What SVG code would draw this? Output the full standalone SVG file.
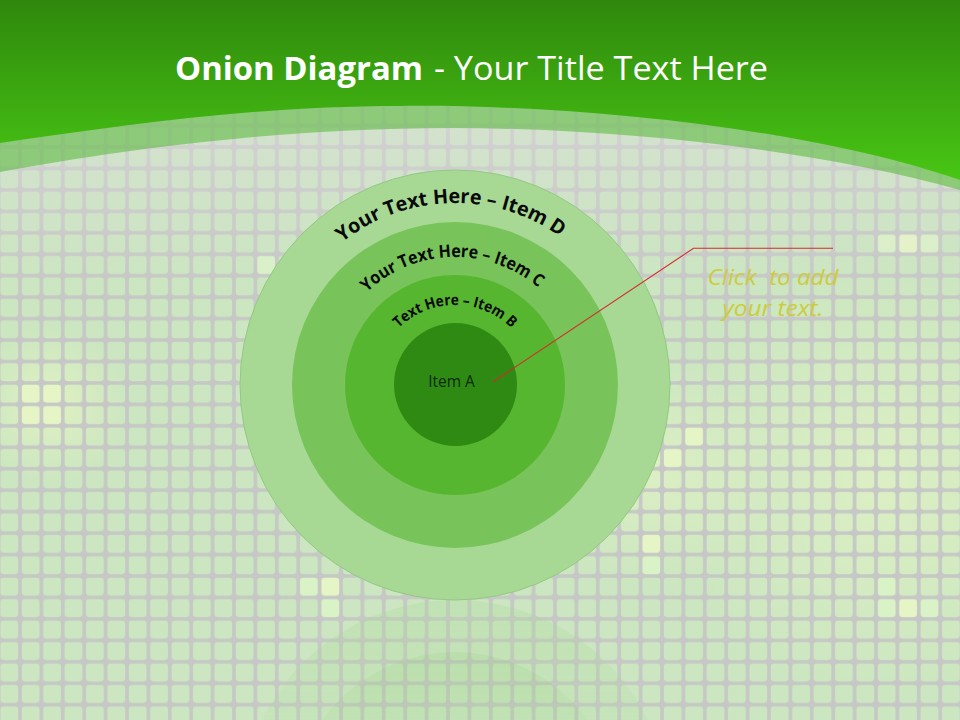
<svg xmlns="http://www.w3.org/2000/svg" xmlns:xlink="http://www.w3.org/1999/xlink" width="960" height="720" viewBox="0 0 960 720">
<style>
.arc{font-family:"Open Sans","Noto Sans","Liberation Sans",sans-serif;font-weight:700;fill:#0a0a0a}
.title{font-family:"Open Sans","Noto Sans","Liberation Sans",sans-serif;fill:#ffffff;font-size:32px}
.call{font-family:"Open Sans","Noto Sans","Liberation Sans",sans-serif;font-style:italic;fill:#cccc3c;font-size:21px}
.lbl{font-family:"Open Sans","Noto Sans","Liberation Sans",sans-serif;fill:#0f2a08;font-size:15.5px}
.hi{fill:#e6f5c6}
.hi2{fill:#d9f2c6}
</style>
<defs>
<pattern id="grid" patternUnits="userSpaceOnUse" x="-1.4" y="18.3" width="21.4" height="21.45">
<path d="M0,0H21.4V21.45H0Z M5,1.8H16.4Q19.6,1.8 19.6,5V16.45Q19.6,19.65 16.4,19.65H5Q1.8,19.65 1.8,16.45V5Q1.8,1.8 5,1.8Z" fill="#c6c8c5" fill-rule="evenodd"/>
</pattern>
<linearGradient id="hdr" x1="0" y1="0" x2="0" y2="1">
<stop offset="0" stop-color="#2f880c"/>
<stop offset="1" stop-color="#48c614"/>
</linearGradient>
<linearGradient id="topfade" x1="0" y1="0" x2="0" y2="1">
<stop offset="0" stop-color="#dcdcdc" stop-opacity="0.55"/>
<stop offset="1" stop-color="#dcdcdc" stop-opacity="0"/>
</linearGradient>
<radialGradient id="glowL" cx="50" cy="405" r="80" gradientUnits="userSpaceOnUse">
<stop offset="0" stop-color="#eef8c4" stop-opacity="0.6"/>
<stop offset="1" stop-color="#eef8c4" stop-opacity="0"/>
</radialGradient>
<radialGradient id="glowR" cx="880" cy="480" r="220" gradientUnits="userSpaceOnUse">
<stop offset="0" stop-color="#e4f3c6" stop-opacity="0.7"/>
<stop offset="1" stop-color="#e4f3c6" stop-opacity="0"/>
</radialGradient>
<radialGradient id="glowM" cx="650" cy="470" r="120" gradientUnits="userSpaceOnUse">
<stop offset="0" stop-color="#e4f3c6" stop-opacity="0.7"/>
<stop offset="1" stop-color="#e4f3c6" stop-opacity="0"/>
</radialGradient>
<linearGradient id="refl" x1="0" y1="600" x2="0" y2="720" gradientUnits="userSpaceOnUse">
<stop offset="0" stop-color="#fff" stop-opacity="0.45"/>
<stop offset="1" stop-color="#fff" stop-opacity="0.2"/>
</linearGradient>
<mask id="reflMask" maskUnits="userSpaceOnUse" x="0" y="600" width="960" height="120">
<rect x="0" y="600" width="960" height="120" fill="url(#refl)"/>
</mask>
<path id="pD" d="M294.3,299.6 A182,182 0 0 1 615.7,299.6"/>
<path id="pC" d="M334.7,341.2 A128,128 0 0 1 575.3,341.2"/>
<path id="pB" d="M376.2,371.1 A80,80 0 0 1 533.8,371.1"/>
</defs>

<g id="background">
<rect x="0" y="0" width="960" height="720" fill="#cbe6c0"/>
<rect x="0" y="0" width="960" height="720" fill="url(#glowR)"/>
<rect x="0" y="0" width="960" height="720" fill="url(#glowM)"/>
<rect x="0" y="0" width="960" height="720" fill="url(#glowL)"/>
<g>
<rect class="hi" x="21" y="384.5" width="19.4" height="19.5"/>
<rect class="hi" x="42.4" y="384.5" width="19.4" height="19.5"/>
<rect class="hi" x="21" y="405.9" width="19.4" height="19.5"/>
<rect class="hi" x="42.4" y="405.9" width="19.4" height="19.5"/>
<rect class="hi" x="898.4" y="234" width="19.4" height="19.5"/>
<rect class="hi2" x="877" y="234" width="19.4" height="19.5"/>
<rect class="hi2" x="919.8" y="234" width="19.4" height="19.5"/>
<rect class="hi" x="898.4" y="598.5" width="19.4" height="19.5"/>
<rect class="hi2" x="877" y="598.5" width="19.4" height="19.5"/>
<rect class="hi2" x="919.8" y="598.5" width="19.4" height="19.5"/>
<rect class="hi2" x="877" y="577" width="19.4" height="19.5"/>
<rect class="hi" x="684.4" y="427" width="19.4" height="19.5"/>
<rect class="hi" x="663" y="448.4" width="19.4" height="19.5"/>
<rect class="hi" x="641.6" y="534.2" width="19.4" height="19.5"/>
<rect class="hi2" x="641.6" y="555.6" width="19.4" height="19.5"/>
<rect class="hi" x="320.6" y="577" width="19.4" height="19.5"/>
<rect class="hi2" x="299.2" y="577" width="19.4" height="19.5"/>
<rect class="hi2" x="320.6" y="598.5" width="19.4" height="19.5"/>
<rect class="hi2" x="256.4" y="255.5" width="19.4" height="19.5"/>
</g>
<rect x="0" y="0" width="960" height="720" fill="url(#grid)"/>
<rect x="0" y="100" width="960" height="200" fill="url(#topfade)"/>
</g>

<g id="header">
<path d="M0,172 C120,150 280,128 450,128 C620,128 820,150 960,190 L960,0 L0,0 Z" fill="#5fbb42" fill-opacity="0.6"/>
<path d="M0,143 C120,126 250,106 400,106 C560,104 800,125 960,180 L960,0 L0,0 Z" fill="url(#hdr)"/>
<text class="title" x="175" y="80"><tspan font-weight="700" textLength="248" lengthAdjust="spacingAndGlyphs">Onion Diagram</tspan></text>
<text class="title" x="434" y="80" textLength="334" lengthAdjust="spacingAndGlyphs">- Your Title Text Here</text>
</g>

<g id="reflection" mask="url(#reflMask)">
<g transform="translate(0,1200) scale(1,-1)">
<circle cx="455" cy="385" r="215" fill="#a6d994" fill-opacity="0.6"/>
<circle cx="455" cy="385" r="163" fill="#79c35b" fill-opacity="0.45"/>
</g>
</g>

<g id="node-D">
<circle cx="455" cy="385" r="215" fill="#a7d995" stroke="#93c983" stroke-width="1"/>
<text class="arc" font-size="20"><textPath xlink:href="#pD" href="#pD" startOffset="192" text-anchor="middle" textLength="234" lengthAdjust="spacingAndGlyphs">Your Text Here – Item D</textPath></text>
</g>
<g id="node-C">
<circle cx="455" cy="385" r="163" fill="#78c45a"/>
<text class="arc" font-size="17.5"><textPath xlink:href="#pC" href="#pC" startOffset="153" text-anchor="middle" textLength="188" lengthAdjust="spacingAndGlyphs">Your Text Here – Item C</textPath></text>
</g>
<g id="node-B">
<circle cx="455" cy="385" r="110" fill="#57b62f"/>
<text class="arc" font-size="15"><textPath xlink:href="#pB" href="#pB" startOffset="111.7" text-anchor="middle" textLength="125" lengthAdjust="spacingAndGlyphs">Text Here – Item B</textPath></text>
</g>
<g id="node-A">
<circle cx="455.5" cy="384.5" r="61.5" fill="#2e8a12"/>
<text class="lbl" x="451.5" y="387" text-anchor="middle">Item A</text>
</g>

<g id="connectors">
<polyline points="493.3,381.7 693.5,248.3 833,248.3" fill="none" stroke="#d42b2b" stroke-width="1.1"/>
</g>

<g id="callout">
<text class="call" x="773" y="285" text-anchor="middle" xml:space="preserve" textLength="131" lengthAdjust="spacingAndGlyphs">Click  to add</text>
<text class="call" x="773" y="316" text-anchor="middle" textLength="101" lengthAdjust="spacingAndGlyphs">your text.</text>
</g>
</svg>
